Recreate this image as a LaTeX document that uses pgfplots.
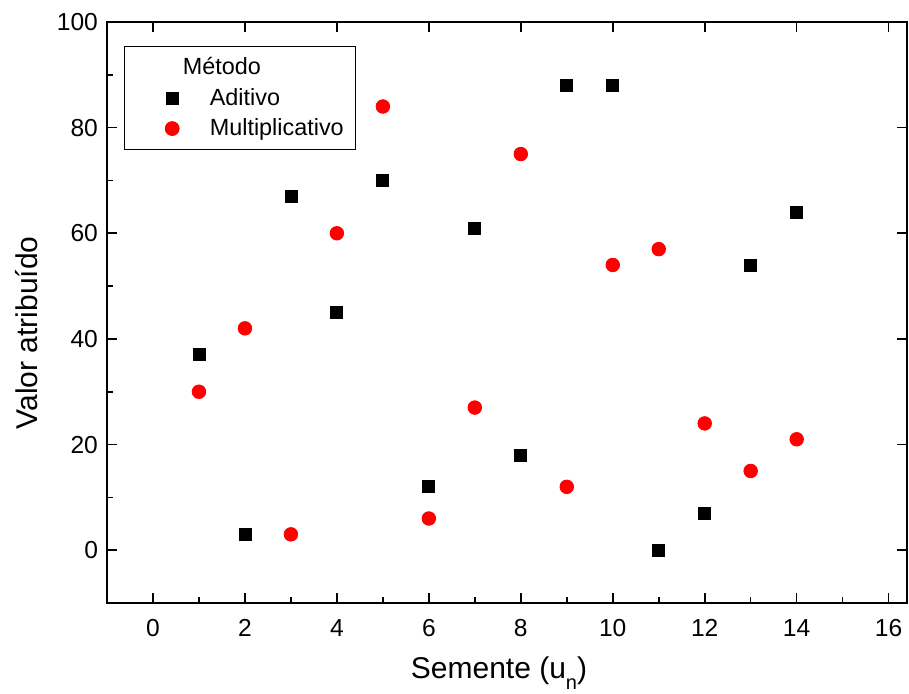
\documentclass[border=0pt]{standalone}
\usepackage{fontspec}
\setmainfont{Liberation Sans}
\usepackage{pgfplots}
\pgfplotsset{compat=1.18}
\definecolor{ptred}{HTML}{FF0000}
\begin{document}
\begin{tikzpicture}
\begin{axis}[
  at={(0,0)}, anchor=south west,
  scale only axis, width=400pt, height=290.5pt,
  xmin=-1, xmax=16.4, ymin=-10, ymax=100,
  xtick={0,2,...,16}, ytick={0,20,...,100},
  minor xtick={1,3,...,15}, minor ytick={10,30,50,70,90},
  xtick pos=left, ytick pos=left, tick align=inside,
  major tick length=5pt, minor tick length=2.8pt,
  every tick/.style={black, line width=0.8pt},
  axis line style={line width=0.8pt},
  tick label style={font=\fontsize{12.3}{14}\selectfont},
  xticklabel style={yshift=-4.5pt},
  yticklabel style={xshift=-1pt},
  /pgf/number format/assume math mode=true,
  xlabel={Semente (u\raisebox{-0.75ex}{\fontsize{10}{10}\selectfont n})},
  ylabel={Valor atribuído},
  label style={font=\fontsize{15}{17}\selectfont},
  xlabel style={at={(axis description cs:0.49,0)}, anchor=base, yshift=-37.5pt},
  ylabel style={at={(axis description cs:-0.1,0.465)}, anchor=center},
  legend style={at={(0.02125,0.9587)}, anchor=north west, draw=black,
    line width=0.6pt, font=\fontsize{11.7}{13.5}\selectfont,
    row sep=1.2pt, inner xsep=4pt, inner ysep=3.5pt},
  legend cell align=left,
  legend image code/.code={\path (0pt,0pt) (36pt,0pt); \draw[#1] plot coordinates {(19.5pt,0pt)};},
]
\addlegendimage{empty legend}
\addlegendentry{\hspace*{-13.5pt}Método}
\addplot[only marks, mark=square*, mark size=3pt, draw=black, fill=black]
coordinates {(1,37) (2,3) (3,67) (4,45) (5,70) (6,12) (7,61) (8,18)
 (9,88) (10,88) (11,0) (12,7) (13,54) (14,64)};
\addlegendentry{Aditivo}
\addplot[only marks, mark=*, mark size=3.4pt, draw=ptred, fill=ptred]
coordinates {(1,30) (2,42) (3,3) (4,60) (5,84) (6,6) (7,27) (8,75)
 (9,12) (10,54) (11,57) (12,24) (13,15) (14,21)};
\addlegendentry{Multiplicativo}
\end{axis}
\begin{axis}[
  at={(0,0)}, anchor=south west,
  scale only axis, width=400pt, height=290.5pt,
  xmin=-1, xmax=16.4, ymin=-10, ymax=100,
  xtick={0,2,...,16}, ytick={0,20,...,100},
  xtick pos=right, ytick pos=right, tick align=inside,
  major tick length=5pt,
  every tick/.style={black, line width=0.8pt},
  axis line style={line width=0.8pt},
  xticklabels={}, yticklabels={},
]
\end{axis}
\pgfresetboundingbox
\path (-53.5pt,-45pt) rectangle (401pt,301.5pt);
\end{tikzpicture}
\end{document}
